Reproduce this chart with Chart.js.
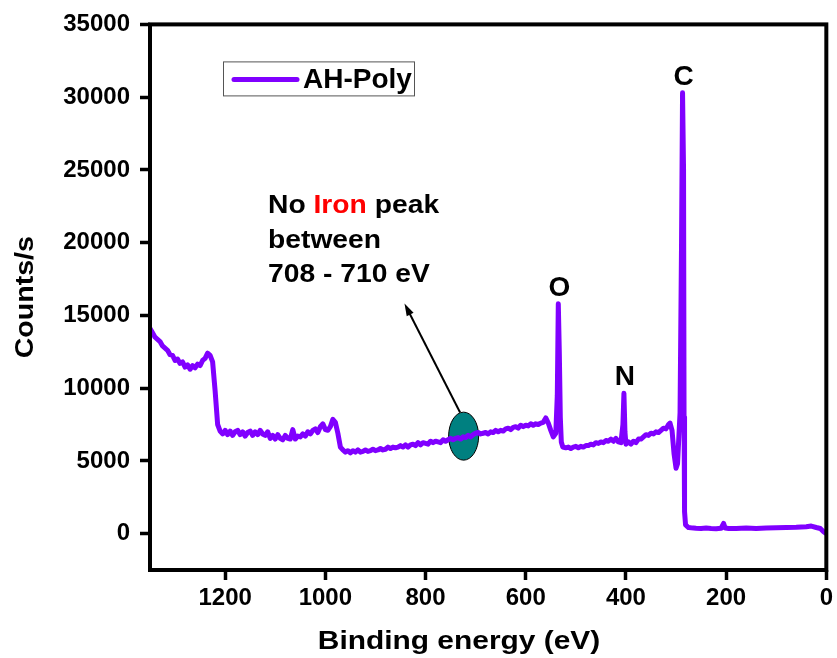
<!DOCTYPE html>
<html lang="en">
  <head>
    <meta charset="UTF-8" />
    <title>XPS survey - AH-Poly</title>
    <script src="https://cdn.jsdelivr.net/npm/chart.js"></script>
    <style>
      body {
        margin: 0;
        background-color: #ffffff;
      }
      canvas {
        display: block;
      }
    </style>
  </head>
  <body>
    <canvas id="xpsChart" width="837" height="658"></canvas>

    <script>
      // survey scan, binding energy (eV) and counts/s
      const energies = [
        1350, 1345, 1340, 1335, 1330, 1325, 1320, 1315, 1310, 1305,
        1300, 1295, 1290, 1285, 1280, 1275, 1270, 1265, 1260, 1255,
        1250, 1245, 1240, 1235, 1230, 1225, 1220,
        1215, 1210, 1205, 1200, 1195, 1190, 1185, 1180, 1175, 1170,
        1165, 1160, 1155, 1150, 1145, 1140, 1135, 1130, 1125, 1120,
        1115, 1110, 1105, 1100, 1095, 1090, 1085, 1080, 1075, 1070,
        1065, 1060, 1055, 1050, 1045, 1040, 1035, 1030, 1025, 1020,
        1015, 1010, 1005, 1000, 995, 990, 985, 980, 975,
        970, 965, 960, 955, 950, 945, 940, 935, 930, 925,
        920, 915, 910, 905, 900, 895, 890, 885, 880, 875,
        870, 865, 860, 855, 850, 845, 840, 835, 830, 825,
        820, 815, 810, 805, 800, 795, 790, 785, 780, 775,
        770, 765, 760, 755, 750, 745, 740, 735, 730, 725,
        720, 715, 710, 705, 700, 695, 690, 685, 680, 675,
        670, 665, 660, 655, 650, 645, 640, 635, 630, 625,
        620, 615, 610, 605, 600, 595, 590, 585, 580, 575,
        570, 565,
        560, 555, 550, 545, 540, 537, 535, 533, 531, 529,
        526, 520, 515, 510, 505, 500, 495, 490, 485, 480,
        475, 470, 465, 460, 455, 450, 445, 440, 435, 430,
        425, 420, 415, 410, 406, 404, 402, 400, 395, 390,
        385, 380, 375, 370, 365, 360, 355, 350, 345, 340,
        335, 330, 325, 320, 315, 312, 308, 304, 300, 297,
        292, 289, 287, 285, 284, 283, 281,
        275, 270, 260, 250, 240, 230, 220, 210, 205, 202,
        195, 180, 160, 140, 120, 100, 80, 60, 40, 30,
        20, 12, 6, 2,
      ];
      const counts = [
        14100, 13800, 13500, 13350, 13200, 12900, 12750, 12600, 12300, 12250,
        11900, 12000, 11700, 11800, 11450, 11600, 11300, 11550, 11400, 11650,
        11550, 11900, 12050, 12400, 12250, 11800, 9800,
        7500, 7050, 6850, 7100, 6800, 7050, 6750, 7000, 7100, 6800,
        7000, 6700, 6950, 7050, 6750, 7000, 6800, 7100, 6850, 6750,
        7000, 6550, 6750, 6500, 6800, 6550, 6450, 6750, 6550, 6500,
        7150, 6500, 6700, 6650, 6850, 6700, 7000, 6850, 7100, 7200,
        6950, 7350, 7550, 7150, 7100, 7350, 7850, 7650, 6900,
        5950, 5750, 5600, 5700, 5550, 5700, 5600, 5750, 5600, 5650,
        5750, 5650, 5700, 5800, 5700, 5750, 5850, 5750, 5800, 5950,
        5850, 5950, 5900, 5950, 6050, 5950, 6100, 5950, 6100, 6150,
        6050, 6250, 6100, 6250, 6200, 6150, 6350, 6250, 6350, 6300,
        6250, 6450, 6350, 6450, 6550, 6450, 6550, 6600, 6500, 6650,
        6600, 6750, 6650, 6800, 6900, 6950, 6850, 6900, 6950, 6850,
        7000, 6950, 7100, 7000, 7100, 7050, 7200, 7250, 7150, 7300,
        7350, 7250, 7450, 7350, 7450, 7400, 7550, 7450, 7550, 7500,
        7600, 7650,
        7950, 7600, 7100, 6650, 6900, 9500, 15800, 12500, 8000, 6300,
        5950, 5900, 5950, 5850, 5950, 6000, 5900, 6000, 5950, 6050,
        6050, 6150, 6100, 6250, 6200, 6300, 6250, 6400, 6350, 6500,
        6350, 6550, 6300, 6250, 7500, 9650, 7000, 6150, 6300, 6150,
        6350, 6250, 6500, 6500, 6650, 6800, 6750, 6900, 6850, 7000,
        6950, 7100, 7250, 7200, 7500, 7600, 7100, 5500, 4500, 4800,
        8300, 20000, 30300, 25000, 8000, 1500, 600,
        420, 400, 370, 360, 380, 350, 340, 370, 700, 380,
        350, 360, 380, 360, 390, 400, 420, 430, 470, 520,
        420, 350, 150, 50,
      ];

      const xTicks = [1200, 1000, 800, 600, 400, 200, 0];
      const yTicks = [0, 5000, 10000, 15000, 20000, 25000, 30000, 35000];

      const peakLabels = ["C", "O", "N"];
      const peakEnergies = [287, 535, 404];
      const peakCounts = [30300, 15800, 9650];

      const seriesName = "AH-Poly";
      const noteLines = [
        [["No ", "#000000"], ["Iron", "#ff0000"], [" peak", "#000000"]],
        [["between", "#000000"]],
        [["708 - 710 eV", "#000000"]],
      ];

      const FONT = "'Liberation Sans', Arial, sans-serif";
      const PURPLE = "#8000ff";

      function drawParts(ctx, parts, x, y, size, sx) {
        ctx.save();
        ctx.translate(x, y);
        ctx.scale(sx, 1);
        ctx.font = `bold ${size}px ${FONT}`;
        ctx.textAlign = "left";
        ctx.textBaseline = "alphabetic";
        let cx = 0;
        parts.forEach(([t, c]) => {
          ctx.fillStyle = c;
          ctx.fillText(t, cx, 0);
          cx += ctx.measureText(t).width;
        });
        ctx.restore();
      }

      function drawCentered(ctx, text, x, y, size, sx) {
        ctx.save();
        ctx.translate(x, y);
        ctx.scale(sx, 1);
        ctx.font = `bold ${size}px ${FONT}`;
        ctx.fillStyle = "#000";
        ctx.textAlign = "center";
        ctx.textBaseline = "alphabetic";
        ctx.fillText(text, 0, 0);
        ctx.restore();
      }

      // teal marker and arrow around 708-710 eV, drawn under the spectrum
      const ironMarker = {
        id: "ironMarker",
        beforeDatasetsDraw(chart) {
          const { ctx, scales } = chart;
          const x = scales.x, y = scales.y;
          const cx = x.getPixelForValue(724), cy = y.getPixelForValue(6700);
          ctx.save();
          ctx.beginPath();
          ctx.ellipse(cx, cy, 15, 24, 0, 0, Math.PI * 2);
          ctx.fillStyle = "#008080";
          ctx.fill();
          ctx.lineWidth = 1;
          ctx.strokeStyle = "#000";
          ctx.stroke();

          const x0 = x.getPixelForValue(731), y0 = y.getPixelForValue(8320);
          const x1 = x.getPixelForValue(842), y1 = y.getPixelForValue(15820);
          const ang = Math.atan2(y1 - y0, x1 - x0);
          const head = 13;
          ctx.beginPath();
          ctx.moveTo(x0, y0);
          ctx.lineTo(x1 - Math.cos(ang) * head * 0.8, y1 - Math.sin(ang) * head * 0.8);
          ctx.lineWidth = 2;
          ctx.stroke();
          ctx.beginPath();
          ctx.moveTo(x1, y1);
          ctx.lineTo(x1 - head * Math.cos(ang - 0.3), y1 - head * Math.sin(ang - 0.3));
          ctx.lineTo(x1 - head * Math.cos(ang + 0.3), y1 - head * Math.sin(ang + 0.3));
          ctx.closePath();
          ctx.fillStyle = "#000";
          ctx.fill();
          ctx.restore();
        },
      };

      // frame, axis titles, legend and text labels
      const decorations = {
        id: "decorations",
        afterDraw(chart) {
          const { ctx, chartArea: a, scales } = chart;
          ctx.save();
          ctx.strokeStyle = "#000";
          ctx.lineWidth = 4;
          ctx.strokeRect(a.left, a.top, a.right - a.left, a.bottom - a.top);
          ctx.restore();

          // axis titles
          drawCentered(ctx, "Binding energy (eV)", a.left + 309, a.bottom + 79, 26, 1.15);
          ctx.save();
          ctx.translate(33, (a.top + a.bottom) / 2);
          ctx.rotate(-Math.PI / 2);
          drawCentered(ctx, "Counts/s", 0, 0, 26, 1.1);
          ctx.restore();

          // legend
          const lx = a.left + 73, ly = a.top + 37;
          ctx.save();
          ctx.strokeStyle = "#555";
          ctx.lineWidth = 1;
          ctx.strokeRect(lx + 0.5, ly + 0.5, 191, 34);
          ctx.beginPath();
          ctx.moveTo(lx + 11, ly + 18);
          ctx.lineTo(lx + 74, ly + 18);
          ctx.strokeStyle = PURPLE;
          ctx.lineWidth = 5;
          ctx.lineCap = "round";
          ctx.stroke();
          ctx.restore();
          drawParts(ctx, [[seriesName, "#000"]], lx + 80, ly + 27, 28, 1);

          // element labels above their peaks
          peakLabels.forEach((label, i) => {
            const px = scales.x.getPixelForValue(peakEnergies[i]);
            const py = scales.y.getPixelForValue(peakCounts[i]);
            drawCentered(ctx, label, px + 1, py - 8, 28, 1);
          });

          // note about the missing Fe 2p peak
          noteLines.forEach((parts, i) => {
            drawParts(ctx, parts, a.left + 118, a.top + 189 + i * 34.5, 25, 1.13);
          });
        },
      };

      const tickFont = { family: FONT, size: 24, weight: "bold" };
      const plainNumber = (v) => String(v);

      new Chart(document.getElementById("xpsChart").getContext("2d"), {
        type: "line",
        data: {
          datasets: [
            {
              label: seriesName,
              data: energies.map((e, i) => ({ x: e, y: counts[i] })),
              borderColor: PURPLE,
              borderWidth: 5,
              borderJoinStyle: "round",
              borderCapStyle: "round",
              pointRadius: 0,
              tension: 0,
              fill: false,
            },
          ],
        },
        options: {
          responsive: false,
          animation: false,
          layout: { padding: { top: 24, right: 10, left: 0, bottom: 0 } },
          plugins: {
            legend: { display: false },
            tooltip: { enabled: false },
          },
          scales: {
            x: {
              type: "linear",
              reverse: true,
              min: 0,
              max: 1350,
              border: { display: false },
              grid: {
                drawOnChartArea: false,
                tickLength: 10,
                tickWidth: 3.5,
                color: "#000",
              },
              ticks: {
                font: tickFont,
                color: "#000",
                padding: 4,
                maxRotation: 0,
                autoSkip: false,
                callback: plainNumber,
              },
              afterBuildTicks: (s) => {
                s.ticks = xTicks.map((v) => ({ value: v }));
              },
              afterFit: (s) => {
                s.height = 88;
              },
            },
            y: {
              type: "linear",
              min: -2500,
              max: 35000,
              border: { display: false },
              grid: {
                drawOnChartArea: false,
                tickLength: 10,
                tickWidth: 3.5,
                color: "#000",
              },
              ticks: {
                font: tickFont,
                color: "#000",
                padding: 10,
                autoSkip: false,
                callback: plainNumber,
              },
              afterBuildTicks: (s) => {
                s.ticks = yTicks.map((v) => ({ value: v }));
              },
              afterFit: (s) => {
                s.width = 150;
              },
            },
          },
        },
        plugins: [ironMarker, decorations],
      });
    </script>
  </body>
</html>
